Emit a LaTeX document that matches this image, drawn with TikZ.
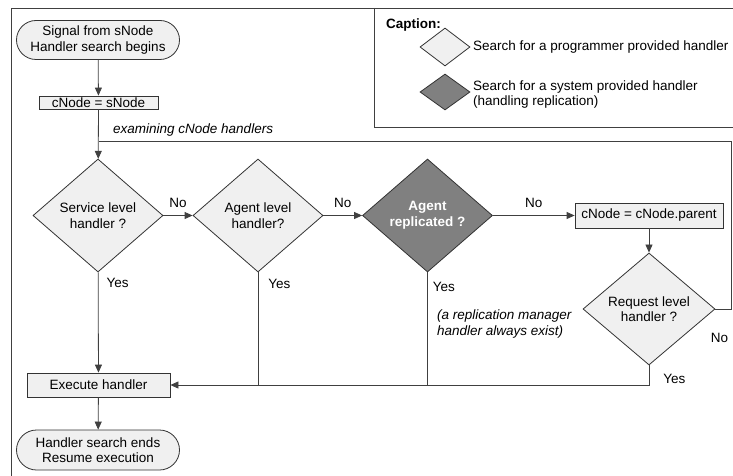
\documentclass[tikz,border=0pt]{standalone}
\usepackage{fontspec}
\setmainfont{Liberation Sans}
\usetikzlibrary{shapes.geometric, shapes.misc, arrows.meta}
\newcommand{\flowfont}{\fontsize{13.5}{15.5}\selectfont}

\begin{document}
\begin{tikzpicture}[x=1pt, y=-1pt, font=\flowfont]
\tikzstyle{term}=[rounded rectangle, draw=black!80, fill=black!6, line width=0.8pt, minimum width=163pt, minimum height=39pt, inner sep=0pt, align=center]
\tikzstyle{proc}=[rectangle, draw=black!80, fill=black!6, line width=0.8pt, inner sep=0pt]
\tikzstyle{ask}=[diamond, draw=black!80, fill=black!6, line width=0.8pt, minimum width=130pt, minimum height=113pt, aspect=1.15, inner sep=0pt, align=center]
\tikzstyle{sysask}=[ask, fill=black!50, text=white, font=\flowfont\bfseries]
\tikzstyle{flow}=[draw=black!75, line width=0.8pt]
\tikzstyle{go}=[flow, -{Triangle[length=8pt, width=7pt]}]
\tikzstyle{lbl}=[inner sep=0pt, anchor=west]
\tikzstyle{no}=[inner sep=0pt, anchor=south, yshift=7pt]
\tikzstyle{remark}=[lbl, font=\flowfont\itshape, align=left]
\useasboundingbox (0,0) rectangle (733,476);
\clip (0,0) rectangle (733,476);
% frame and caption
\draw[flow] (11,490) -- (11,8) -- (745,8);
\draw[flow] (374,8) -- (374,127) -- (745,127);
\node[lbl, font=\flowfont\bfseries] (capt) at (386,25) {Caption:};
\node[ask, minimum width=50pt, minimum height=38pt] (keyusr) at (445,47) {};
\node[sysask, minimum width=50pt, minimum height=36pt] (keysys) at (445,92) {};
\node[lbl] (keyusrtxt) at (473,47) {Search for a programmer provided handler};
\node[lbl, align=left] (keysystxt) at (473,94.5) {Search for a system provided handler\\(handling replication)};
% flow chart
\node[term] (start) at (98,40) {Signal from sNode\\Handler search begins};
\node[proc, minimum width=119pt, minimum height=13pt] (init) at (98.5,102.5) {cNode = sNode};
\node[ask] (svc) at (98,215.5) {Service level\\handler ?};
\node[ask] (agt) at (258,215.5) {Agent level\\handler?};
\node[sysask] (rep) at (427.5,215.5) {Agent\\replicated ?};
\node[proc, minimum width=148pt, minimum height=25pt] (parent) at (649,215.5) {cNode = cNode.parent};
\node[ask, minimum width=132pt, minimum height=112pt] (req) at (649,309) {Request level\\handler ?};
\node[proc, minimum width=143pt, minimum height=24pt] (exec) at (98.5,385) {Execute handler};
\node[term, minimum height=40pt] (end) at (98,450) {Handler search ends\\Resume execution};
\node[remark] (exam) at (113,130) {examining cNode handlers};
\node[remark] (always) at (437,324) {(a replication manager\\handler always exist)};
\coordinate (loop) at (731.5,141);
\draw[go] (start) -- (init);
\draw[go] (init) -- (svc);
\draw[go] (svc) -- node[no, midway] {No} (agt);
\draw[go] (agt) -- node[no, midway] {No} (rep);
\draw[go] (rep) -- node[no, midway] {No} (parent);
\draw[go] (parent) -- (req);
\draw[go] (svc) -- node[lbl, pos=0.11, xshift=8pt] {Yes} (exec);
\draw[flow] (agt.south) -- node[lbl, pos=0.1, xshift=10pt] {Yes} (agt.south |- exec.east);
\draw[flow] (rep.south) -- node[lbl, pos=0.13, xshift=5pt] {Yes} (rep.south |- exec.east);
\draw[go] (req.south) -- node[lbl, pos=0.7, xshift=14pt] {Yes} (req.south |- exec.east) -- (exec.east);
\draw[flow] (req.east) -- node[lbl, pos=0, xshift=-5pt, yshift=-29pt] {No} (req.east -| loop) -- (loop) -- (init.south |- loop);
\draw[go] (exec) -- (end);
\end{tikzpicture}
\end{document}
